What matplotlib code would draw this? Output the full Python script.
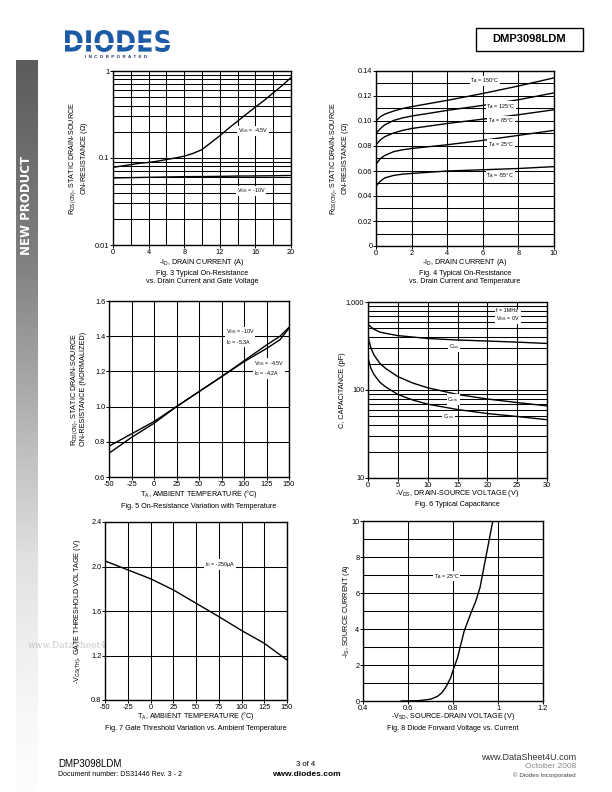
import numpy as np
import matplotlib
matplotlib.use("Agg")
import matplotlib.pyplot as plt
from matplotlib.textpath import TextPath
from matplotlib.patches import PathPatch, Rectangle
from matplotlib.font_manager import FontProperties
from matplotlib.transforms import Affine2D
from matplotlib.ticker import NullFormatter, FuncFormatter

plt.rcParams['font.family'] = ['Liberation Sans', 'DejaVu Sans']
plt.rcParams['mathtext.fontset'] = 'custom'
plt.rcParams['mathtext.rm'] = 'Liberation Sans'
plt.rcParams['mathtext.it'] = 'Liberation Sans:italic'
plt.rcParams['mathtext.bf'] = 'Liberation Sans:bold'
plt.rcParams['axes.unicode_minus'] = False

# ---------------- data ----------------
# Fig 3
f3_id = [0, 1, 2, 3, 4, 5, 6, 7, 8, 9, 10, 11, 12, 13, 14, 15, 16, 17, 18, 19, 20]
f3_r45 = [0.078, 0.081, 0.084, 0.087, 0.089, 0.092, 0.096, 0.100, 0.105, 0.113, 0.125,
          0.150, 0.180, 0.220, 0.265, 0.320, 0.385, 0.460, 0.560, 0.680, 0.840]
f3_id10 = [0, 2, 4, 6, 8, 10, 12, 14, 16, 18, 20]
f3_r10 = [0.059, 0.0595, 0.060, 0.0605, 0.061, 0.0612, 0.0615, 0.062, 0.0622, 0.0625, 0.063]

# Fig 4
f4_id = [0, 0.25, 0.5, 1, 1.5, 2, 3, 4, 6, 8, 10]
f4_t150 = [0.100, 0.1035, 0.1055, 0.108, 0.110, 0.1115, 0.114, 0.1165, 0.122, 0.128, 0.1345]
f4_t125 = [0.090, 0.094, 0.097, 0.1005, 0.1025, 0.104, 0.1062, 0.1085, 0.1125, 0.117, 0.1225]
f4_t85 = [0.081, 0.085, 0.0875, 0.0905, 0.0925, 0.094, 0.096, 0.098, 0.1015, 0.105, 0.109]
f4_t25 = [0.0655, 0.070, 0.0725, 0.0755, 0.077, 0.078, 0.0795, 0.081, 0.0845, 0.0885, 0.0925]
f4_tm55 = [0.048, 0.052, 0.0545, 0.0565, 0.0575, 0.058, 0.059, 0.060, 0.061, 0.062, 0.0635]

# Fig 5
f5_ta = [-50, -25, 0, 25, 50, 75, 100, 125, 140, 150]
f5_r10 = [0.775, 0.845, 0.915, 1.0, 1.085, 1.17, 1.26, 1.35, 1.40, 1.45]
f5_r45 = [0.735, 0.825, 0.905, 1.0, 1.085, 1.17, 1.255, 1.33, 1.38, 1.445]

# Fig 6
f6_vds = [0, 0.5, 1, 2, 3, 5, 7.5, 10, 15, 20, 25, 30]
f6_ciss = [560, 520, 490, 455, 440, 415, 400, 385, 370, 360, 350, 338]
f6_coss = [400, 300, 250, 200, 175, 142, 120, 106, 89, 79, 72, 66]
f6_crss = [230, 175, 150, 122, 108, 89, 77, 69, 60, 54, 50, 46]

# Fig 7
f7_ta = [-50, -25, 0, 25, 50, 75, 100, 125, 150]
f7_vth = [2.05, 1.97, 1.89, 1.79, 1.67, 1.55, 1.425, 1.31, 1.16]

# Fig 8
f8_vsd = [0.57, 0.60, 0.65, 0.70, 0.73, 0.75, 0.77, 0.79, 0.80, 0.82, 0.85, 0.88, 0.90, 0.92, 0.94, 0.96, 0.977]
f8_is = [0, 0.003, 0.02, 0.1, 0.25, 0.45, 0.8, 1.3, 1.7, 2.4, 3.9, 4.9, 5.5, 6.3, 7.6, 8.9, 10]

# ---------------- figure ----------------
W, H = 612, 792
fig = plt.figure(figsize=(W / 100, H / 100), dpi=100)

FS_TICK = 5.3
FS_LAB = 5.2
FS_ANN = 3.9
LW_GRID = 0.75
LW_CURVE = 1.0


def px(x, y):
    return x / W, 1 - y / H


def ax_at(x0, y0, x1, y1):
    return fig.add_axes([x0 / W, 1 - y1 / H, (x1 - x0) / W, (y1 - y0) / H])


def style(ax, ylab, ylab_px, xlab, xlab_px, box):
    left, top, right, bottom = box
    for s in ax.spines.values():
        s.set_linewidth(1.0)
        s.set_color('black')
    ax.tick_params(which='major', direction='out', length=2.0, width=0.7, labelsize=FS_TICK, pad=0.6)
    ax.tick_params(which='minor', length=0)
    ax.grid(True, which='both', color='black', linewidth=LW_GRID)
    ax.set_axisbelow(True)
    ax.set_xlabel(xlab, fontsize=FS_LAB, va='center')
    ax.xaxis.set_label_coords(0.5, -(xlab_px - bottom) / (bottom - top))
    ax.set_ylabel(ylab, fontsize=FS_LAB, linespacing=1.15, va='center')
    ax.yaxis.set_label_coords((ylab_px - left) / (right - left), 0.5)


def ann(ax, x, y, s, ha='left'):
    ax.text(x, y, s, fontsize=FS_ANN, ha=ha, va='center', zorder=5,
            bbox=dict(facecolor='white', edgecolor='none', pad=0.6))


def caption(xc, y, s):
    fig.text(*px(xc, y), s, fontsize=FS_LAB, ha='center', va='center', linespacing=1.1)


# ---- Fig 3 ----
box = (113, 71, 291, 245)
L, T, R, B = box
ax = ax_at(L, T, R, B)
ax.plot(f3_id, f3_r45, color='black', lw=LW_CURVE, zorder=3)
ax.plot(f3_id10, f3_r10, color='black', lw=LW_CURVE, zorder=3)
ax.set_yscale('log')
ax.set_xlim(0, 20)
ax.set_ylim(0.01, 1)
ax.set_xticks([0, 4, 8, 12, 16, 20])
ax.set_xticks([2, 6, 10, 14, 18], minor=True)
ax.set_yticks([0.01, 0.1, 1])
ax.set_yticklabels(['0.01', '0.1', '1'])
ax.yaxis.set_minor_formatter(NullFormatter())
style(ax, r'R$_{\rm DS(ON)}$, STATIC DRAIN-SOURCE' + '\n' + r'ON-RESISTANCE ($\Omega$)', 79,
      r'-I$_{\rm D}$, DRAIN CURRENT (A)', 262, box)
ann(ax, 14.0, 0.205, r'V$_{\rm GS}$ = -4.5V')
ann(ax, 13.9, 0.042, r'V$_{\rm GS}$ = -10V')
caption((L + R) / 2, 277.5, 'Fig. 3 Typical On-Resistance\nvs. Drain Current and Gate Voltage')

# ---- Fig 4 ----
box = (376, 71, 554, 246)
L, T, R, B = box
ax = ax_at(L, T, R, B)
for ys in (f4_t150, f4_t125, f4_t85, f4_t25, f4_tm55):
    ax.plot(f4_id, ys, color='black', lw=LW_CURVE, zorder=3)
ax.set_xlim(0, 10)
ax.set_ylim(0, 0.14)
ax.set_xticks([0, 2, 4, 6, 8, 10])
ax.set_yticks([0, 0.02, 0.04, 0.06, 0.08, 0.10, 0.12, 0.14])
ax.set_yticklabels(['0', '0.02', '0.04', '0.06', '0.08', '0.10', '0.12', '0.14'])
ax.set_yticks([0.01, 0.03, 0.05, 0.07, 0.09, 0.11, 0.13], minor=True)
style(ax, r'R$_{\rm DS(ON)}$, STATIC DRAIN-SOURCE' + '\n' + r'ON-RESISTANCE ($\Omega$)', 340,
      r'-I$_{\rm D}$, DRAIN CURRENT (A)', 263, box)
ann(ax, 5.3, 0.132, r'T$_{\rm A}$ = 150°C')
ann(ax, 6.2, 0.1115, r'T$_{\rm A}$ = 125°C')
ann(ax, 6.3, 0.100, r'T$_{\rm A}$ = 85°C')
ann(ax, 6.3, 0.0813, r'T$_{\rm A}$ = 25°C')
ann(ax, 6.2, 0.056, r'T$_{\rm A}$ = -55°C')
caption((L + R) / 2, 277.5, 'Fig. 4 Typical On-Resistance\nvs. Drain Current and Temperature')

# ---- Fig 5 ----
box = (109, 301, 289, 477)
L, T, R, B = box
ax = ax_at(L, T, R, B)
ax.plot(f5_ta, f5_r10, color='black', lw=LW_CURVE, zorder=3)
ax.plot(f5_ta, f5_r45, color='black', lw=LW_CURVE, zorder=3)
ax.set_xlim(-50, 150)
ax.set_ylim(0.6, 1.6)
ax.set_xticks([-50, -25, 0, 25, 50, 75, 100, 125, 150])
ax.set_yticks([0.6, 0.8, 1.0, 1.2, 1.4, 1.6])
ax.yaxis.set_major_formatter(FuncFormatter(lambda v, p: f'{v:.1f}'))
style(ax, r'R$_{\rm DS(ON)}$, STATIC DRAIN-SOURCE' + '\n' + 'ON-RESISTANCE (NORMALIZED)', 78,
      r'T$_{\rm A}$, AMBIENT TEMPERATURE (°C)', 493.5, box)
ann(ax, 80, 1.395, r'V$_{\rm GS}$ = -10V' + '\n' + r'I$_{\rm D}$ = -5.3A')
ann(ax, 111, 1.215, r'V$_{\rm GS}$ = -4.5V' + '\n' + r'I$_{\rm D}$ = -4.2A')
caption((L + R) / 2, 506.5, 'Fig. 5 On-Resistance Variation with Temperature')

# ---- Fig 6 ----
box = (368, 302, 547, 478)
L, T, R, B = box
ax = ax_at(L, T, R, B)
for ys in (f6_ciss, f6_coss, f6_crss):
    ax.plot(f6_vds, ys, color='black', lw=LW_CURVE, zorder=3)
ax.set_yscale('log')
ax.set_xlim(0, 30)
ax.set_ylim(10, 1000)
ax.set_xticks([0, 5, 10, 15, 20, 25, 30])
ax.set_yticks([10, 100, 1000])
ax.set_yticklabels(['10', '100', '1,000'])
ax.yaxis.set_minor_formatter(NullFormatter())
style(ax, 'C, CAPACITANCE (pF)', 342, r'-V$_{\rm DS}$, DRAIN-SOURCE VOLTAGE (V)', 493.5, box)
ann(ax, 21.5, 700, 'f = 1MHz\n' + r'V$_{\rm GS}$ = 0V')
ann(ax, 13.5, 312, r'C$_{\rm iss}$')
ann(ax, 13.3, 78, r'C$_{\rm oss}$')
ann(ax, 12.6, 50, r'C$_{\rm rss}$')
caption((L + R) / 2, 504.5, 'Fig. 6 Typical Capacitance')

# ---- Fig 7 ----
box = (105, 522, 287, 700)
L, T, R, B = box
ax = ax_at(L, T, R, B)
ax.plot(f7_ta, f7_vth, color='black', lw=LW_CURVE, zorder=3)
ax.set_xlim(-50, 150)
ax.set_ylim(0.8, 2.4)
ax.set_xticks([-50, -25, 0, 25, 50, 75, 100, 125, 150])
ax.set_yticks([0.8, 1.2, 1.6, 2.0, 2.4])
ax.yaxis.set_major_formatter(FuncFormatter(lambda v, p: f'{v:.1f}'))
style(ax, r'-V$_{\rm GS(TH)}$, GATE THRESHOLD VOLTAGE (V)', 78,
      r'T$_{\rm A}$, AMBIENT TEMPERATURE (°C)', 716.5, box)
ann(ax, 60, 2.02, r'I$_{\rm D}$ = -250µA')
caption((L + R) / 2, 729, 'Fig. 7 Gate Threshold Variation vs. Ambient Temperature')

# ---- Fig 8 ----
box = (363, 521, 543, 701)
L, T, R, B = box
ax = ax_at(L, T, R, B)
ax.plot(f8_vsd, f8_is, color='black', lw=LW_CURVE, zorder=3, clip_on=True)
ax.set_xlim(0.4, 1.2)
ax.set_ylim(0, 10)
ax.set_xticks([0.4, 0.6, 0.8, 1.0, 1.2])
ax.set_xticklabels(['0.4', '0.6', '0.8', '1', '1.2'])
ax.set_yticks([0, 2, 4, 6, 8, 10])
ax.set_yticks([1, 3, 5, 7, 9], minor=True)
style(ax, r'-I$_{\rm S}$, SOURCE CURRENT (A)', 347, r'-V$_{\rm SD}$, SOURCE-DRAIN VOLTAGE (V)', 716.5, box)
ann(ax, 0.714, 6.94, r'T$_{\rm A}$ = 25°C')
caption((L + R) / 2, 729, 'Fig. 8 Diode Forward Voltage vs. Current')

# ---------------- page decorations ----------------
# left gradient bar
gy = np.array([60, 260, 400, 460, 560, 640, 720, 792])
gv = np.array([0.36, 0.50, 0.68, 0.76, 0.88, 0.93, 0.97, 0.99])
ys = np.arange(60, 792)
grad = np.interp(ys, gy, gv)[:, None]
bar = fig.add_axes([16 / W, 0, 21 / W, (792 - 60) / H], zorder=-5)
bar.imshow(grad, aspect='auto', cmap='gray', vmin=0, vmax=1, interpolation='bilinear')
bar.axis('off')
fig.text(*px(26.5, 205), 'NEW PRODUCT', rotation=90, color='white', fontsize=8.5,
         fontweight='bold', ha='center', va='center', family='DejaVu Sans')

# watermark
fig.text(*px(28, 645), 'www.DataSheet4U.com', fontsize=6.5, color='#c8c8c8',
         family='DejaVu Serif', ha='left', va='center', zorder=-1)

# logo
tp = TextPath((0, 0), 'DIODES', size=10, prop=FontProperties(family='DejaVu Sans', weight='bold'))
ext = tp.get_extents()
x0, x1, yt, yb = 65, 170, 30, 52
tr = (Affine2D().translate(-ext.x0, -ext.y0)
      .scale((x1 - x0) / ext.width / W, (yb - yt) / ext.height / H)
      .translate(x0 / W, 1 - yb / H))
fig.add_artist(PathPatch(tr.transform_path(tp), facecolor='#1d5ba6', edgecolor='none',
                         transform=fig.transFigure))
fig.add_artist(Rectangle(px(63, 44.5), 110 / W, 1.3 / H, facecolor='white', edgecolor='none',
                         transform=fig.transFigure))
fig.text(*px(116, 57), 'I  N  C  O  R  P  O  R  A  T  E  D', fontsize=3.2, fontweight='bold',
         color='#1a2f5a', ha='center', va='center')

# part number box
fig.add_artist(Rectangle(px(476, 51), 107 / W, 23 / H, fill=False, edgecolor='black', lw=1.0,
                         transform=fig.transFigure))
fig.text(*px(529.5, 39.5), 'DMP3098LDM', fontsize=8, fontweight='bold', ha='center', va='center')

# footer
fig.text(*px(58, 764), 'DMP3098LDM', fontsize=7, ha='left', va='center')
fig.text(*px(58, 775), 'Document number: DS31446 Rev. 3 - 2', fontsize=5, ha='left', va='center')
fig.text(*px(306, 764), '3 of 4', fontsize=5.5, ha='center', va='center')
fig.text(*px(306, 774), 'www.diodes.com', fontsize=6, fontweight='bold', ha='center', va='center')
fig.text(*px(576, 757), 'www.DataSheet4U.com', fontsize=6.5, ha='right', va='center', color='#333333')
fig.text(*px(576, 766), 'October 2008', fontsize=6, ha='right', va='center', color='#888888')
fig.text(*px(576, 775), '© Diodes Incorporated', fontsize=4.5, ha='right', va='center', color='#444444')

fig.savefig('out.png', dpi=100)
